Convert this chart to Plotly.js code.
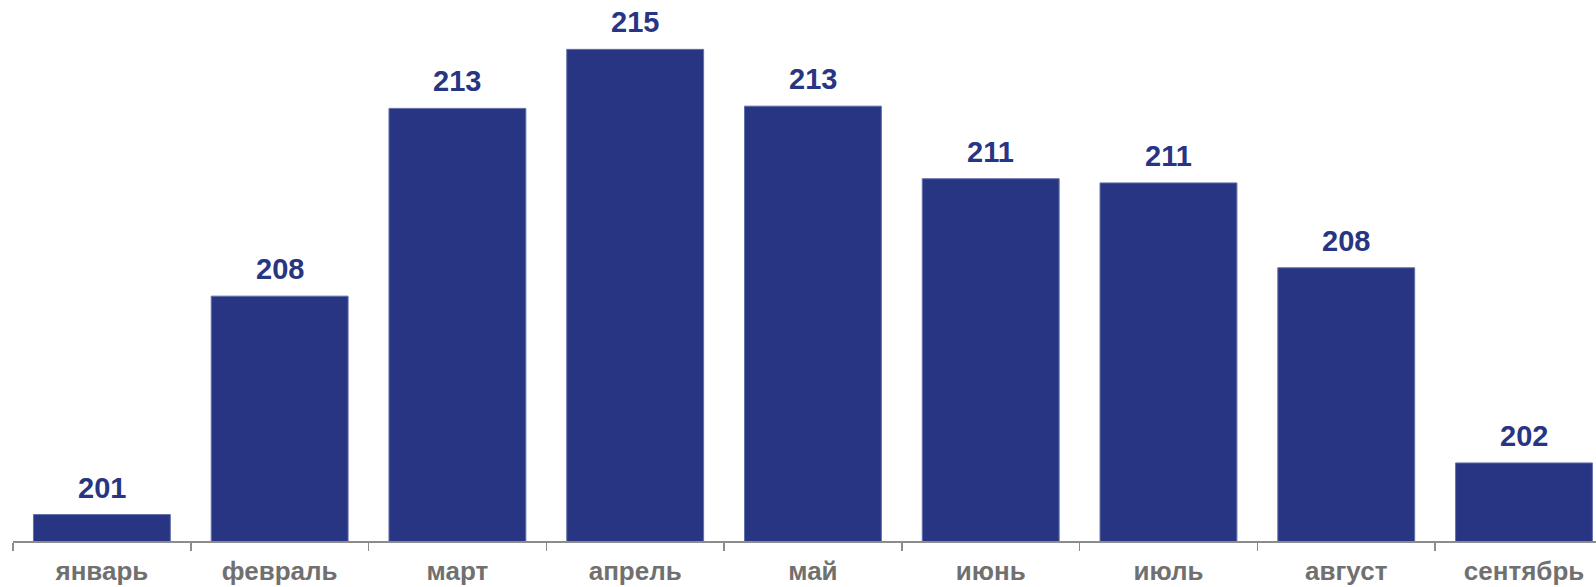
<!DOCTYPE html>
<html>
<head>
<meta charset="utf-8">
<script src="https://cdn.plot.ly/plotly-3.0.1.min.js"></script>
<style>html,body{margin:0;padding:0;background:#fff;}#chart{width:1596px;height:587px;}</style>
</head>
<body>
<div id="chart"></div>
<script>
const months = ["январь","февраль","март","апрель","май","июнь","июль","август","сентябрь"];
const values = [200.82, 207.59, 213.41, 215.24, 213.48, 211.23, 211.10, 208.47, 202.42];

const barColor = "#283583";
const trace = {
  type: "bar",
  x: months,
  y: values,
  width: 0.77,
  marker: {color: barColor, line: {color: "#6470aa", width: 1}},
  hoverinfo: "skip"
};

const annotations = months.map((m, i) => ({
  x: m, y: values[i], xref: "x", yref: "y",
  text: String(Math.round(values[i])),
  showarrow: false, yanchor: "bottom", yshift: 9,
  font: {family: "Liberation Sans, Arial, sans-serif", size: 29, color: barColor, weight: "bold"}
}));

const layout = {
  width: 1596, height: 587,
  margin: {l: 13, r: 0, t: 0, b: 46},
  paper_bgcolor: "#fff", plot_bgcolor: "#fff",
  showlegend: false,
  xaxis: {
    type: "category",
    range: [-0.5, 8.405],
    tickson: "boundaries",
    ticks: "outside", ticklen: 8, tickcolor: "#8c8c8c", tickwidth: 1.5,
    showline: true, linecolor: "#8c8c8c", linewidth: 1.5,
    showgrid: false, zeroline: false,
    ticklabelstandoff: 6,
    tickfont: {family: "Liberation Sans, Arial, sans-serif", size: 26, color: "#707070", weight: "bold"},
    fixedrange: true
  },
  yaxis: {range: [200, 216.77], visible: false, fixedrange: true},
  annotations: annotations,
  bargap: 0.23
};

Plotly.newPlot("chart", [trace], layout, {staticPlot: true, displayModeBar: false});
</script>
</body>
</html>
